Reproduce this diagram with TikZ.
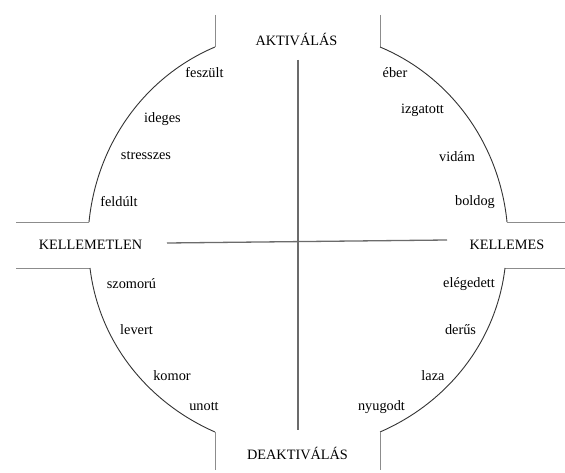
\documentclass[tikz,border=0pt]{standalone}
\usepackage{fontspec}
\setmainfont{Liberation Serif}
\begin{document}
\begin{tikzpicture}[x=1pt,y=1pt,
  tabline/.style={draw=black!45,line width=0.9pt},
  arcline/.style={draw=black!80,line width=0.9pt,looseness=0.92},
  axisline/.style={draw=black!58,line width=1.3pt},
  lbl/.style={inner sep=0pt,font=\fontsize{14.3}{17}\selectfont},
  axcaption/.style={inner sep=0pt,font=\fontsize{14.3}{17}\selectfont}]
\useasboundingbox (0,0) rectangle (565,472);
\fill[white] (0,0) rectangle (565,472);
% coordinates of the outline
\coordinate (tla) at (215,457);
\coordinate (tlb) at (215,425);
\coordinate (tlc) at (89,250);
\coordinate (tld) at (16,250);
\coordinate (tra) at (380,457);
\coordinate (trb) at (380,425);
\coordinate (trc) at (507,250);
\coordinate (trd) at (565,250);
\coordinate (bla) at (16,204);
\coordinate (blb) at (90,204);
\coordinate (blc) at (215,40);
\coordinate (bld) at (215,2);
\coordinate (bra) at (565,204);
\coordinate (brb) at (505,204);
\coordinate (brc) at (380,40);
\coordinate (brd) at (380,2);
% outline
\draw[tabline] (tla) -- (tlb);
\draw[arcline] (tlb) to[out=203,in=84.3] (tlc);
\draw[tabline] (tlc) -- (tld);
\draw[tabline] (tra) -- (trb);
\draw[arcline] (trb) to[out=-22.7,in=95.7] (trc);
\draw[tabline] (trc) -- (trd);
\draw[tabline] (bla) -- (blb);
\draw[arcline] (blb) to[out=276.9,in=156.3] (blc);
\draw[tabline] (blc) -- (bld);
\draw[tabline] (bra) -- (brb);
\draw[arcline] (brb) to[out=-96.9,in=23.5] (brc);
\draw[tabline] (brc) -- (brd);
% axes
\coordinate (vtop) at (298,412);
\coordinate (vbot) at (298,42);
\coordinate (hleft) at (167,229);
\coordinate (hright) at (447,232);
\draw[axisline] (vtop) -- (vbot);
\draw[axisline] (hleft) -- (hright);
% axis captions
\node[axcaption] (akt) at (296.5,433) {AKTIVÁLÁS};
\node[axcaption] (deakt) at (297.5,19) {DEAKTIVÁLÁS};
\node[axcaption] (kellemetlen) at (90.5,227) {KELLEMETLEN};
\node[axcaption] (kellemes) at (507,227) {KELLEMES};
% emotion labels
\node[lbl] (feszult) at (204.5,399) {feszült};
\node[lbl] (ideges) at (162.5,353) {ideges};
\node[lbl] (stresszes) at (146,316) {stresszes};
\node[lbl] (feldult) at (119,270) {feldúlt};
\node[lbl] (eber) at (395,399) {éber};
\node[lbl] (izgatott) at (422.5,362) {izgatott};
\node[lbl] (vidam) at (457,315) {vidám};
\node[lbl] (boldog) at (475,270) {boldog};
\node[lbl] (szomoru) at (131.5,188) {szomorú};
\node[lbl] (levert) at (136.5,142) {levert};
\node[lbl] (komor) at (172,96) {komor};
\node[lbl] (unott) at (204,65) {unott};
\node[lbl] (elegedett) at (469,188) {elégedett};
\node[lbl] (derus) at (460.5,142) {derűs};
\node[lbl] (laza) at (433,96) {laza};
\node[lbl] (nyugodt) at (381.5,65) {nyugodt};
\end{tikzpicture}
\end{document}
